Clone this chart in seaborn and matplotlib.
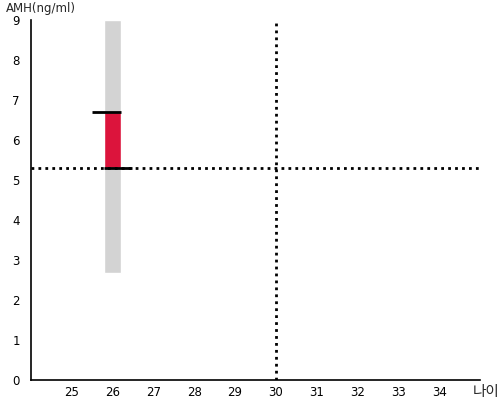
import numpy as np
import pandas as pd
import seaborn as sns
import matplotlib.pyplot as plt

# Data
age = [26]
amh_range_low = [2.67]
amh_range_high = [9.0]
amh_low = [5.3]
amh_high = [6.7]
ref_age = 30
ref_amh = 5.3
x_ticks = [25, 26, 27, 28, 29, 30, 31, 32, 33, 34]
y_ticks = [0, 1, 2, 3, 4, 5, 6, 7, 8, 9]

df = pd.DataFrame({"age": age, "low": amh_range_low, "high": amh_range_high,
                   "mlow": amh_low, "mhigh": amh_high})

sns.set_theme(style="white")
plt.rcParams['font.family'] = ['DejaVu Sans', 'Noto Sans CJK KR']

fig = plt.figure(figsize=(5, 4), dpi=100)
ax = fig.add_axes([0.062, 0.05, 0.898, 0.9])

# gray range bar and red measured bar
ax.bar(df["age"], df["high"] - df["low"], bottom=df["low"], width=0.4,
       color="#d3d3d3", zorder=1)
ax.bar(df["age"], df["mhigh"] - df["mlow"], bottom=df["mlow"], width=0.4,
       color="#dc143c", zorder=2)
ax.hlines(df["mhigh"], df["age"] - 0.5, df["age"] + 0.2, color="black", lw=2, zorder=3)
ax.hlines(df["mlow"], df["age"] - 0.2, df["age"] + 0.47, color="black", lw=2, zorder=3)

# reference lines
ax.axhline(ref_amh, color="black", ls=(0, (1, 1.5)), lw=2, zorder=2.5)
ax.axvline(ref_age, color="black", ls=(0, (1, 1.5)), lw=2, zorder=2.5)

ax.set_xlim(24, 35)
ax.set_ylim(0, 9)
ax.set_xticks(x_ticks)
ax.set_yticks(y_ticks)
ax.tick_params(axis="x", direction="in", length=3, width=1, labelsize=8.5, pad=4, colors="black")
ax.tick_params(axis="y", direction="out", length=3, width=1, labelsize=8.5, pad=5, colors="black")
for s in ["left", "bottom"]:
    ax.spines[s].set_color("black")
    ax.spines[s].set_linewidth(1.2)
sns.despine(ax=ax)

fig.text(0.012, 0.978, "AMH(ng/ml)", fontsize=8.5, ha="left", va="center")
fig.text(0.945, 0.02, "나이", fontsize=10.5, ha="left", va="center",
         family=['Noto Sans CJK KR', 'DejaVu Sans'])

fig.savefig("out.png", dpi=100)
